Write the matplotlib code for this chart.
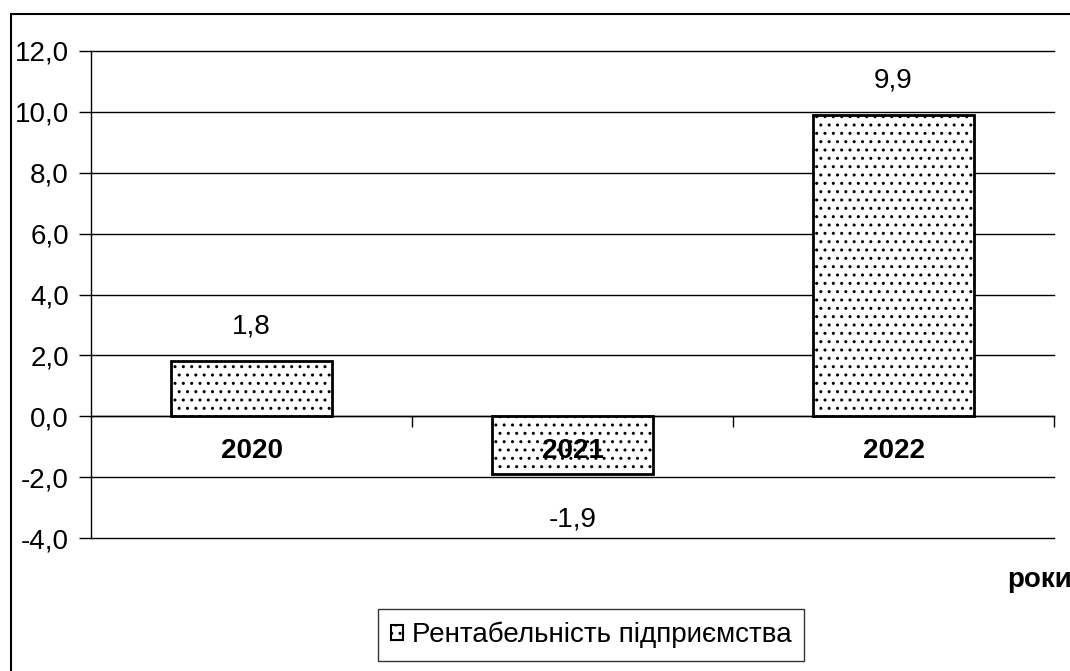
import matplotlib
matplotlib.use("Agg")
import matplotlib.pyplot as plt
from matplotlib.patches import Rectangle
from matplotlib.ticker import FuncFormatter, FixedLocator

plt.rcParams['font.family'] = ['Liberation Sans', 'DejaVu Sans']
plt.rcParams['hatch.color'] = '#999999'
plt.rcParams['hatch.linewidth'] = 1.0

years = ['2020', '2021', '2022']
values = [1.8, -1.9, 9.9]
yticks = [-4, -2, 0, 2, 4, 6, 8, 10, 12]
series_name = 'Рентабельність підприємства'

FS = 20
W, H = 1070, 671
fig = plt.figure(figsize=(W / 100, H / 100), dpi=100)
ax = fig.add_axes([91 / W, 1 - 538 / H, (1054 - 91) / W, (538 - 51) / H])

for t in yticks:
    ax.axhline(t, color='black', linewidth=1, zorder=0, clip_on=False)

x = list(range(len(years)))
bars = ax.bar(x, values, width=0.5, color='white', edgecolor='black',
              linewidth=2, hatch='..', label=series_name, zorder=1)

ax.set_xlim(-0.5, len(years) - 0.5)
ax.set_ylim(-4, 12)
ax.set_yticks(yticks)
ax.yaxis.set_major_formatter(FuncFormatter(lambda v, p: f"{v:.1f}".replace('.', ',')))

for s in ['top', 'right']:
    ax.spines[s].set_visible(False)
ax.spines['bottom'].set_position(('data', 0))
ax.spines['bottom'].set_linewidth(1)
ax.spines['left'].set_linewidth(1)
ax.spines['bottom'].set_zorder(0.5)

ax.set_xticks(x)
ax.set_xticklabels(years, fontsize=FS, fontweight='bold')
ax.tick_params(axis='x', which='major', length=0, pad=16)
ax.xaxis.set_minor_locator(FixedLocator([0.5, 1.5, 2.5]))
ax.tick_params(axis='x', which='minor', length=8, direction='out', width=1)
ax.tick_params(axis='y', labelsize=FS, length=9, width=1, pad=7)

for xi, v in zip(x, values):
    off = 25 if v >= 0 else -33
    ax.annotate(f"{v:.1f}".replace('.', ','), (xi, v), xytext=(0, off),
                textcoords='offset points', ha='center', va='center',
                fontsize=FS, zorder=5)

fig.text(1072 / W, 1 - 580 / H, 'роки', ha='right', va='center',
         fontsize=FS, fontweight='bold')

leg = fig.legend(handles=[bars], labels=[series_name], loc='center',
                 bbox_to_anchor=(591 / W, 1 - 635 / H), fontsize=FS,
                 frameon=True, fancybox=False, edgecolor='black',
                 handlelength=0.45, handleheight=0.45, handletextpad=0.3,
                 borderpad=0.45, borderaxespad=0)
leg.get_frame().set_linewidth(1)
for h in leg.legend_handles:
    h.set_linewidth(1.5)

fig.patches.append(Rectangle((11 / W, -0.05), 1.2, 1 - 14 / H + 0.05,
                             transform=fig.transFigure, fill=False,
                             edgecolor='black', linewidth=1.5))

fig.savefig('out.png', dpi=100)
